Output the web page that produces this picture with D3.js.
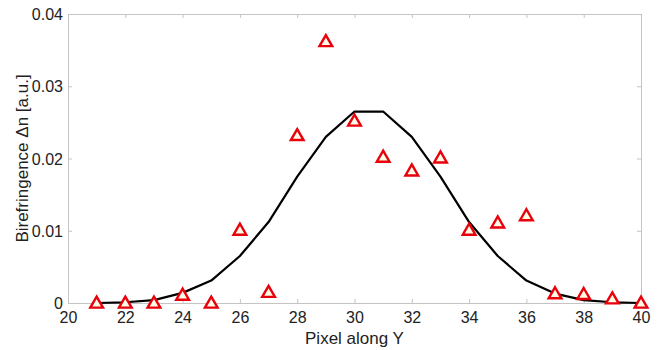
<!DOCTYPE html>
<meta charset="utf-8">
<html>
<head>
    <script src="https://d3js.org/d3.v7.min.js"></script>
    <style>
        body { margin: 0; background: white; }
        text { font-family: "Liberation Sans", Arial, sans-serif; fill: #222; }
    </style>
</head>
<body>
    <script>
        // pixel positions along Y
        const pixels = [21, 22, 23, 24, 25, 26, 27, 28, 29, 30, 31, 32, 33, 34, 35, 36, 37, 38, 39, 40];
        // measured birefringence (red triangles)
        const measured = [0, 0, 0, 0.0011, 0, 0.0101, 0.0015, 0.0232, 0.0362, 0.0252, 0.0202, 0.0183,
            0.0201, 0.0101, 0.0111, 0.0121, 0.0013, 0.0012, 0.0006, 0];
        // fitted curve (black line)
        const fitted = [0, 0.0001, 0.0004, 0.0014, 0.0031, 0.0065, 0.0112, 0.0175, 0.0230, 0.0265,
            0.0265, 0.0230, 0.0175, 0.0112, 0.0065, 0.0031, 0.0013, 0.0004, 0.0001, 0];
        const xTicks = [20, 22, 24, 26, 28, 30, 32, 34, 36, 38, 40];
        const yTicks = [0, 0.01, 0.02, 0.03, 0.04];

        const width = 661, height = 350;
        const margin = { top: 14, right: 20, bottom: 47, left: 68 };

        const svg = d3.select('body').append('svg')
            .attr('width', width)
            .attr('height', height);

        const x = d3.scaleLinear().domain([20, 40]).range([margin.left, width - margin.right]);
        const y = d3.scaleLinear().domain([0, 0.04]).range([height - margin.bottom, margin.top]);

        const axisColor = '#c4c4c4';

        // axes (box style, ticks inward)
        const xAxis = svg.append('g')
            .attr('transform', `translate(0,${y(0)})`)
            .call(d3.axisBottom(x).tickValues(xTicks).tickSize(-4).tickPadding(9).tickFormat(d3.format('d')));
        const xTop = svg.append('g')
            .attr('transform', `translate(0,${y(0.04)})`)
            .call(d3.axisTop(x).tickValues(xTicks).tickSize(-4).tickFormat(''));
        const yAxis = svg.append('g')
            .attr('transform', `translate(${x(20)},0)`)
            .call(d3.axisLeft(y).tickValues(yTicks).tickSize(-4).tickPadding(5).tickFormat(d => d === 0 ? '0' : d3.format('.2f')(d)));
        const yRight = svg.append('g')
            .attr('transform', `translate(${x(40)},0)`)
            .call(d3.axisRight(y).tickValues(yTicks).tickSize(-4).tickFormat(''));

        [xAxis, xTop, yAxis, yRight].forEach(g => {
            g.select('.domain').attr('stroke', axisColor).attr('stroke-width', 1);
            g.selectAll('.tick line').attr('stroke', axisColor);
            g.selectAll('.tick text').style('font-size', '16px').attr('fill', '#222');
        });
        yAxis.selectAll('.tick text').attr('dy', '0.35em');

        // fitted curve
        const line = d3.line()
            .x((d, i) => x(pixels[i]))
            .y(d => y(d));

        svg.append('path')
            .datum(fitted)
            .attr('fill', 'none')
            .attr('stroke', 'black')
            .attr('stroke-width', 2.2)
            .attr('stroke-linejoin', 'round')
            .attr('d', line);

        // measured points as triangles
        const tri = d3.symbol().type(d3.symbolTriangle).size(70);
        svg.selectAll('.pt')
            .data(measured)
            .enter()
            .append('path')
            .attr('class', 'pt')
            .attr('transform', (d, i) => `translate(${x(pixels[i])},${y(d) + 1})`)
            .attr('d', tri)
            .attr('fill', '#fffbe6')
            .attr('stroke', '#e8000b')
            .attr('stroke-width', 2.4);

        // axis labels
        svg.append('text')
            .attr('x', (x(20) + x(40)) / 2)
            .attr('y', 344)
            .attr('text-anchor', 'middle')
            .style('font-size', '17px')
            .text('Pixel along Y');

        svg.append('text')
            .attr('transform', `translate(28,${(y(0) + y(0.04)) / 2}) rotate(-90)`)
            .attr('text-anchor', 'middle')
            .style('font-size', '17px')
            .text('Birefringence \u0394n [a.u.]');
    </script>
</body>
</html>
